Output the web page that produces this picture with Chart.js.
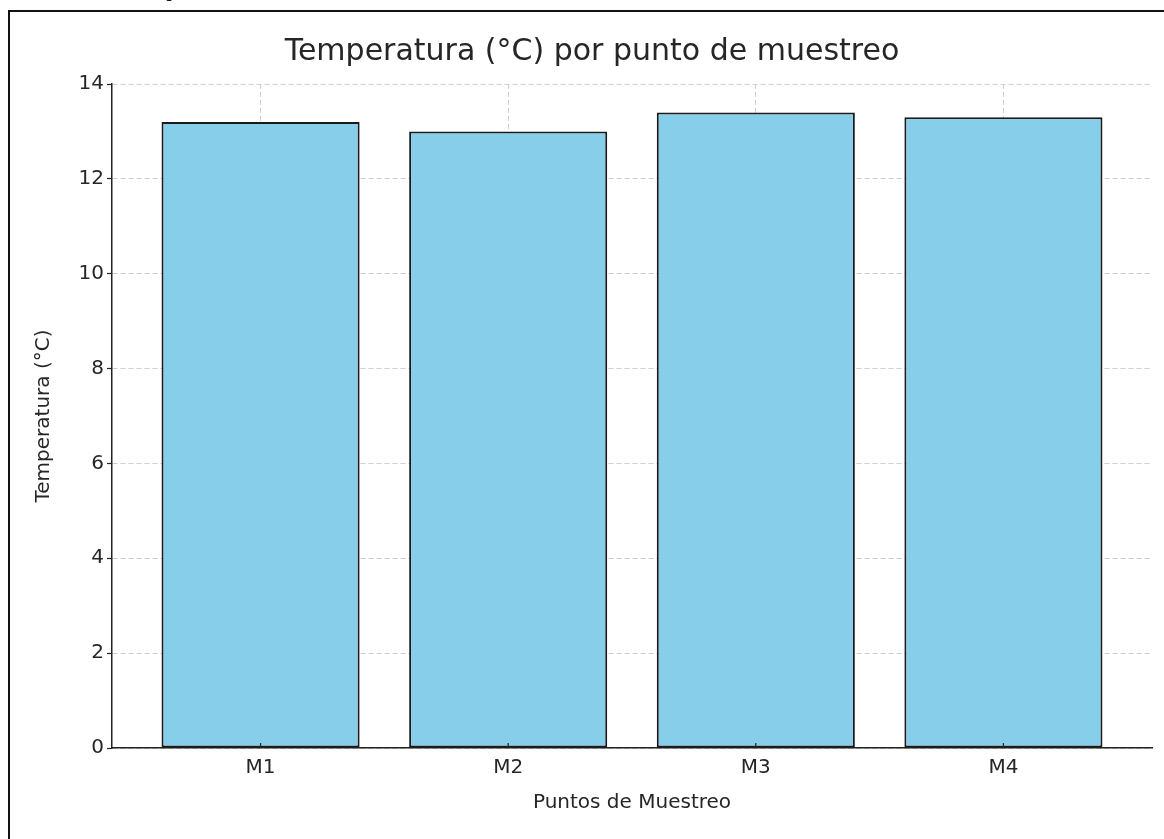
<!DOCTYPE html>
<html>
<head>
<meta charset="utf-8">
<script src="https://cdn.jsdelivr.net/npm/chart.js@4"></script>
<style>
  html, body { margin: 0; padding: 0; background: #fff; overflow: hidden; }
  body { width: 1164px; height: 839px; position: relative; }
  #cut-title {
    position: absolute; left: 108px; top: -25px;
    font: bold 25px "DejaVu Sans", sans-serif; line-height: 1; color: #111;
    white-space: nowrap;
  }
  #frame {
    position: absolute; left: 8px; top: 10px; width: 1250px; height: 900px;
    border: 2px solid #111; box-sizing: border-box;
  }
  #wrap { position: absolute; left: 0; top: 0; width: 1164px; height: 839px; }
</style>
</head>
<body>
<div id="cut-title">Temperatura (°C)</div>
<div id="frame"></div>
<div id="wrap"><canvas id="chart" width="1164" height="839"></canvas></div>
<script>
// Data
const puntos = ['M1', 'M2', 'M3', 'M4'];
const temperaturas = [13.2, 13.0, 13.4, 13.3];
const yTicks = [0, 2, 4, 6, 8, 10, 12, 14];

const textColor = '#262626';
const gridColor = '#cfcfcf';
const font = 'DejaVu Sans';

// matplotlib style x ticks pointing into the plot
const inwardTicks = {
    id: 'inwardTicks',
    afterDatasetsDraw(chart) {
        const xs = chart.scales.x;
        const ctx = chart.ctx;
        const bottom = chart.chartArea.bottom;
        ctx.save();
        ctx.strokeStyle = '#222';
        ctx.lineWidth = 1.2;
        puntos.forEach((_, i) => {
            const px = xs.getPixelForValue(i);
            ctx.beginPath();
            ctx.moveTo(px, bottom);
            ctx.lineTo(px, bottom - 5);
            ctx.stroke();
        });
        ctx.restore();
    }
};

new Chart(document.getElementById('chart'), {
    type: 'bar',
    data: {
        datasets: [{
            label: 'Temperatura (°C)',
            data: temperaturas.map((v, i) => ({ x: i, y: v })),
            backgroundColor: '#87CEEB',
            borderColor: '#1a1a1a',
            borderWidth: 2,
            borderSkipped: false,
            barPercentage: 0.8,
            categoryPercentage: 1
        }]
    },
    options: {
        responsive: false,
        animation: false,
        layout: { padding: { left: 32, right: 12, top: 0, bottom: 0 } },
        plugins: {
            legend: { display: false },
            tooltip: { enabled: false },
            title: {
                display: true,
                text: 'Temperatura (°C) por punto de muestreo',
                color: textColor,
                font: { family: font, size: 30, weight: 'normal' },
                padding: { top: 34, bottom: 14 }
            }
        },
        scales: {
            x: {
                type: 'linear',
                min: -0.6,
                max: 3.6,
                offset: false,
                afterBuildTicks: (scale) => {
                    scale.ticks = puntos.map((_, i) => ({ value: i }));
                },
                afterFit: (scale) => { scale.height = 91; },
                grid: { color: gridColor, drawTicks: false, offset: false },
                border: { display: true, color: '#222', width: 1.5, dash: [5, 3] },
                ticks: {
                    color: textColor,
                    padding: 8,
                    maxRotation: 0,
                    font: { family: font, size: 20 },
                    callback: (v) => puntos[v]
                },
                title: {
                    display: true,
                    text: 'Puntos de Muestreo',
                    color: textColor,
                    font: { family: font, size: 20 },
                    padding: { top: 0, bottom: 24 }
                }
            },
            y: {
                min: 0,
                max: 14,
                afterBuildTicks: (scale) => {
                    scale.ticks = yTicks.map(v => ({ value: v }));
                },
                afterFit: (scale) => { scale.width = 80; },
                grid: {
                    color: gridColor,
                    tickLength: 5,
                    tickColor: '#222',
                    tickWidth: 1.2
                },
                border: { display: true, color: '#222', width: 1.5, dash: [5, 3] },
                ticks: {
                    color: textColor,
                    padding: 3,
                    font: { family: font, size: 20 }
                },
                title: {
                    display: true,
                    text: 'Temperatura (°C)',
                    color: textColor,
                    font: { family: font, size: 20 },
                    padding: { top: 0, bottom: 0 }
                }
            }
        }
    },
    plugins: [inwardTicks]
});
</script>
</body>
</html>
